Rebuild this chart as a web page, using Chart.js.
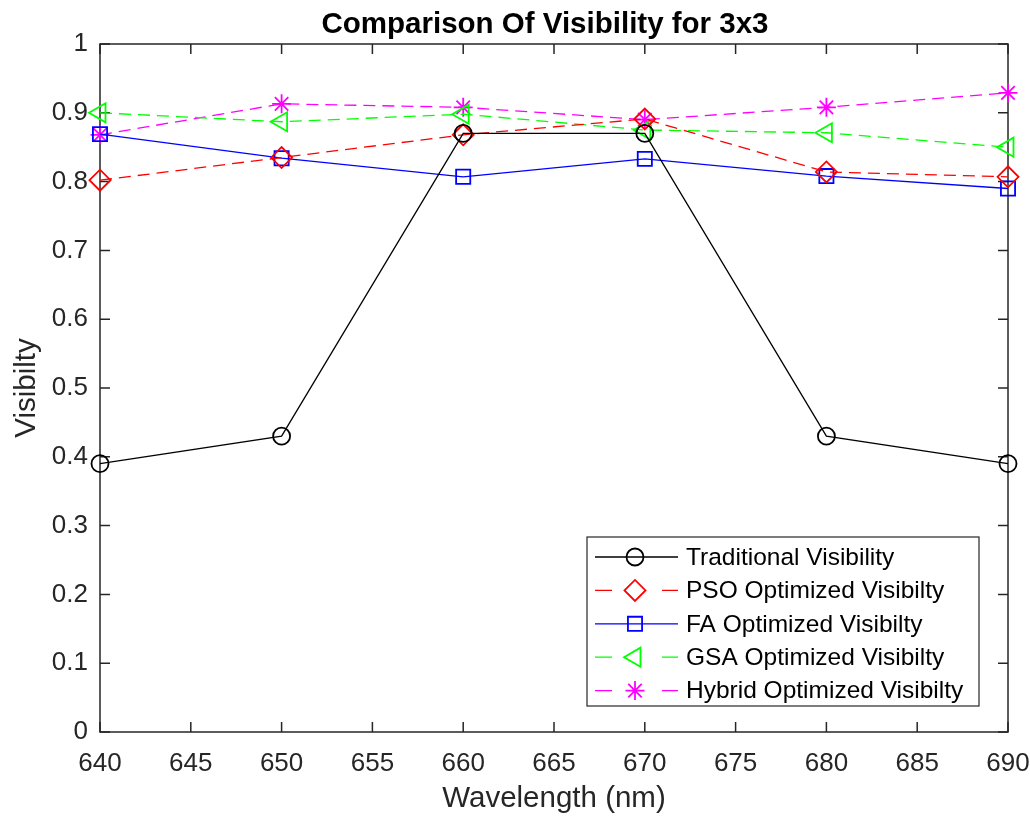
<!DOCTYPE html>
<html>
<head>
<meta charset="utf-8">
<script src="https://cdn.jsdelivr.net/npm/chart.js@4/dist/chart.umd.min.js"></script>
<style>
  html, body { margin: 0; padding: 0; background: #fff; }
  #wrap { width: 1030px; height: 816px; }
</style>
</head>
<body>
<div id="wrap"><canvas id="visChart" width="1030" height="816"></canvas></div>
<script>
// values
const wavelengths = [640, 650, 660, 670, 680, 690];
const traditional = [0.39, 0.43, 0.87, 0.87, 0.43, 0.39];
const psoVis = [0.802, 0.835, 0.868, 0.891, 0.814, 0.807];
const faVis = [0.869, 0.834, 0.807, 0.833, 0.808, 0.790];
const gsaVis = [0.900, 0.887, 0.898, 0.875, 0.871, 0.850];
const hybridVis = [0.868, 0.913, 0.908, 0.890, 0.908, 0.929];

const xTicks = [640, 645, 650, 655, 660, 665, 670, 675, 680, 685, 690];
const yTicks = [0, 0.1, 0.2, 0.3, 0.4, 0.5, 0.6, 0.7, 0.8, 0.9, 1];

const titleText = 'Comparison Of Visibility for 3x3';
const xTitle = 'Wavelength (nm)';
const yTitle = 'Visibilty';

const FONT = '"Liberation Sans", Arial, Helvetica, sans-serif';
const AXIS_COLOR = '#262626';

const toPoints = (vals) => vals.map((v, i) => ({ x: wavelengths[i], y: v }));

function series(label, vals, color, style, radius, dash, rotation) {
  return {
    label,
    data: toPoints(vals),
    borderColor: color,
    borderWidth: 1.3,
    borderDash: dash,
    pointStyle: style,
    pointRadius: radius,
    pointHoverRadius: radius,
    pointRotation: rotation || 0,
    pointBorderColor: color,
    pointBackgroundColor: 'rgba(0,0,0,0)',
    pointBorderWidth: 1.8,
    tension: 0,
    fill: false,
    clip: false,
  };
}

const datasets = [
  series('Traditional Visibility', traditional, '#000000', 'circle', 8.5, []),
  series('PSO Optimized Visibilty', psoVis, '#ff0000', 'rectRot', 10.5, [12, 7]),
  series('FA Optimized Visibilty', faVis, '#0000ff', 'rect', 10, []),
  series('GSA Optimized Visibilty', gsaVis, '#00ff00', 'triangle', 11, [12, 7], -90),
  series('Hybrid Optimized Visibilty', hybridVis, '#ff00ff', 'star', 9.5, [12, 7]),
];

function marker(ctx, ds, x, y) {
  ctx.save();
  ctx.strokeStyle = ds.pointBorderColor;
  ctx.fillStyle = 'rgba(0,0,0,0)';
  ctx.lineWidth = ds.pointBorderWidth;
  ctx.setLineDash([]);
  Chart.helpers.drawPoint(ctx, {
    pointStyle: ds.pointStyle,
    radius: ds.pointRadius,
    rotation: ds.pointRotation,
    borderWidth: ds.pointBorderWidth,
  }, x, y);
  ctx.restore();
}

// MATLAB-like box, inward ticks, labels, title and legend
const matlabFrame = {
  id: 'matlabFrame',
  beforeDatasetsDraw(chart) {
    const { ctx, chartArea: a, scales } = chart;
    ctx.save();
    ctx.strokeStyle = AXIS_COLOR;
    ctx.lineWidth = 1.5;
    ctx.strokeRect(a.left, a.top, a.right - a.left, a.bottom - a.top);
    ctx.beginPath();
    const tl = 10;
    xTicks.forEach(v => {
      const px = scales.x.getPixelForValue(v);
      ctx.moveTo(px, a.bottom); ctx.lineTo(px, a.bottom - tl);
      ctx.moveTo(px, a.top); ctx.lineTo(px, a.top + tl);
    });
    yTicks.forEach(v => {
      const py = scales.y.getPixelForValue(v);
      ctx.moveTo(a.left, py); ctx.lineTo(a.left + tl, py);
      ctx.moveTo(a.right, py); ctx.lineTo(a.right - tl, py);
    });
    ctx.stroke();
    ctx.restore();
  },
  afterDatasetsDraw(chart) {
    const { ctx, chartArea: a } = chart;
    ctx.save();
    // title
    ctx.fillStyle = '#000';
    ctx.font = 'bold 29.5px ' + FONT;
    ctx.textAlign = 'center';
    ctx.textBaseline = 'alphabetic';
    ctx.fillText(titleText, (a.left + a.right) / 2 - 9, 33);
    // axis titles
    ctx.fillStyle = AXIS_COLOR;
    ctx.font = '29.5px ' + FONT;
    ctx.fillText(xTitle, (a.left + a.right) / 2, 807);
    ctx.save();
    ctx.translate(35, (a.top + a.bottom) / 2);
    ctx.rotate(-Math.PI / 2);
    ctx.fillText(yTitle, 0, 0);
    ctx.restore();

    // legend box
    const bw = 392, bh = 169;
    const bx = a.right - 29 - bw, by = a.bottom - 26 - bh;
    ctx.fillStyle = '#fff';
    ctx.fillRect(bx, by, bw, bh);
    ctx.strokeStyle = AXIS_COLOR;
    ctx.lineWidth = 1.2;
    ctx.strokeRect(bx, by, bw, bh);
    ctx.font = '24.5px ' + FONT;
    ctx.textAlign = 'left';
    ctx.textBaseline = 'middle';
    chart.data.datasets.forEach((ds, i) => {
      const cy = by + 20 + i * 33.4;
      ctx.strokeStyle = ds.borderColor;
      ctx.lineWidth = ds.borderWidth;
      ctx.setLineDash([]);
      ctx.beginPath();
      if (ds.borderDash.length) {
        ctx.moveTo(bx + 8, cy); ctx.lineTo(bx + 25, cy);
        ctx.moveTo(bx + 75, cy); ctx.lineTo(bx + 91, cy);
      } else {
        ctx.moveTo(bx + 8, cy); ctx.lineTo(bx + 91, cy);
      }
      ctx.stroke();
      marker(ctx, ds, bx + 48, cy);
      ctx.fillStyle = '#000';
      ctx.fillText(ds.label, bx + 99, cy + 1);
    });
    ctx.restore();
  }
};

const chart = new Chart(document.getElementById('visChart').getContext('2d'), {
  type: 'line',
  data: { datasets },
  plugins: [matlabFrame],
  options: {
    responsive: false,
    animation: false,
    events: [],
    layout: { padding: { top: 44, right: 22, left: 0, bottom: 0 } },
    plugins: {
      legend: { display: false },
      title: { display: false },
      tooltip: { enabled: false },
    },
    scales: {
      x: {
        type: 'linear',
        min: 640,
        max: 690,
        afterBuildTicks: (s) => { s.ticks = xTicks.map(v => ({ value: v })); },
        afterFit: (s) => { s.height = 84; s.paddingLeft = 0; s.paddingRight = 0; },
        grid: { display: false, drawTicks: false },
        border: { display: false },
        ticks: {
          color: AXIS_COLOR,
          font: { family: FONT, size: 26 },
          padding: 16,
          maxRotation: 0,
          autoSkip: false,
        },
      },
      y: {
        min: 0,
        max: 1,
        afterBuildTicks: (s) => { s.ticks = yTicks.map(v => ({ value: v })); },
        afterFit: (s) => { s.width = 100; s.paddingTop = 0; s.paddingBottom = 0; },
        grid: { display: false, drawTicks: false },
        border: { display: false },
        ticks: {
          color: AXIS_COLOR,
          font: { family: FONT, size: 26 },
          padding: 12,
          autoSkip: false,
          callback: (v) => String(Math.round(v * 10) / 10),
        },
      },
    },
  },
});
</script>
</body>
</html>
